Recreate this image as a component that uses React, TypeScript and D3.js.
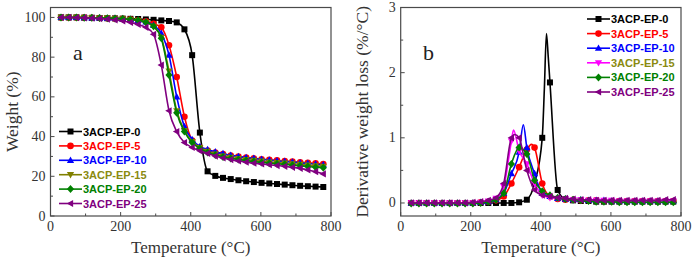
import React from 'react';
import * as d3 from 'd3';

// ---------- data ----------
const temps = [30, 52, 74, 96, 118, 140, 162, 184, 206, 228, 250, 272, 294, 316, 338, 360, 382, 404, 426, 448, 470, 492, 514, 536, 558, 580, 602, 624, 646, 668, 690, 712, 734, 756, 778];

const seriesNames = ['3ACP-EP-0', '3ACP-EP-5', '3ACP-EP-10', '3ACP-EP-15', '3ACP-EP-20', '3ACP-EP-25'];

// TGA weight (%)
const tgaEP0 = [100, 100, 100, 99.9, 99.8, 99.7, 99.6, 99.5, 99.4, 99.3, 99.2, 99.0, 98.8, 98.5, 98.2, 97.5, 94, 81, 42, 22.5, 20.2, 19.2, 18.6, 18.0, 17.5, 17.1, 16.7, 16.4, 16.1, 15.8, 15.5, 15.2, 15.0, 14.8, 14.6];
const tgaEP5 = [100, 100, 100, 99.9, 99.8, 99.7, 99.6, 99.5, 99.3, 99.0, 98.6, 98.0, 96.8, 95, 86, 70, 50, 38, 34.5, 33, 32, 31.2, 30.5, 29.9, 29.4, 29.0, 28.6, 28.3, 28.0, 27.7, 27.4, 27.1, 26.8, 26.5, 26.2];
const tgaEP10 = [100, 100, 100, 99.9, 99.8, 99.7, 99.6, 99.5, 99.3, 99.0, 98.5, 97.8, 96, 92, 81, 60, 45, 38.5, 35, 33.5, 32.3, 31.4, 30.6, 30, 29.4, 29, 28.6, 28.2, 27.8, 27.5, 27.2, 26.8, 26.5, 26.1, 25.8];
const tgaEP15 = [100, 100, 100, 99.9, 99.8, 99.7, 99.6, 99.4, 99.2, 98.9, 98.4, 97.5, 95.5, 90, 73, 53, 43, 37.5, 34.5, 32.5, 31.2, 30.2, 29.5, 28.9, 28.4, 28, 27.6, 27.2, 26.9, 26.6, 26.3, 26, 25.6, 25.3, 25];
const tgaEP20 = [100, 100, 100, 99.9, 99.8, 99.7, 99.6, 99.5, 99.3, 99.0, 98.6, 97.6, 95.5, 89.5, 71, 52, 42.5, 37, 34, 32, 30.7, 29.7, 29, 28.4, 27.9, 27.4, 27, 26.6, 26.3, 26, 25.6, 25.3, 24.9, 24.6, 24.3];
const tgaEP25 = [100, 100, 99.9, 99.8, 99.6, 99.4, 99.1, 98.7, 98.2, 97.5, 96.5, 95, 91.5, 76, 53, 42.5, 37, 34.5, 32.8, 31.5, 30.2, 29.2, 28.4, 27.7, 27.1, 26.6, 26.2, 25.8, 25.4, 25, 24.5, 24, 23.2, 22.3, 21.2];

// DTG derivative weight loss (%/°C)
const dtgEP0 = [0, 0, 0, 0, 0, 0, 0, 0, 0, 0, 0, 0, 0, 0, 0.01, 0.05, 0.3, 1.0, 1.85, 0.2, 0.06, 0.04, 0.03, 0.03, 0.02, 0.02, 0.02, 0.02, 0.02, 0.02, 0.02, 0.02, 0.02, 0.02, 0.02];
const dtgEP5 = [0, 0, 0, 0, 0, 0, 0, 0, 0, 0.01, 0.02, 0.04, 0.1, 0.3, 0.55, 0.82, 0.85, 0.3, 0.1, 0.06, 0.05, 0.05, 0.04, 0.04, 0.04, 0.03, 0.03, 0.03, 0.03, 0.03, 0.03, 0.03, 0.03, 0.03, 0.03];
const dtgEP10 = [0, 0, 0, 0, 0, 0, 0, 0, 0, 0.01, 0.02, 0.05, 0.15, 0.45, 0.78, 0.85, 0.45, 0.15, 0.1, 0.07, 0.06, 0.05, 0.05, 0.04, 0.04, 0.04, 0.03, 0.03, 0.03, 0.03, 0.03, 0.03, 0.03, 0.03, 0.03];
const dtgEP15 = [0, 0, 0, 0, 0, 0, 0, 0, 0, 0.01, 0.03, 0.07, 0.25, 0.95, 0.8, 0.6, 0.3, 0.12, 0.08, 0.07, 0.06, 0.05, 0.05, 0.04, 0.04, 0.04, 0.04, 0.03, 0.03, 0.03, 0.03, 0.03, 0.03, 0.03, 0.03];
const dtgEP20 = [-0.01, -0.01, -0.01, -0.01, -0.01, -0.01, -0.01, -0.01, -0.01, 0, 0.02, 0.05, 0.15, 0.6, 0.85, 0.75, 0.35, 0.18, 0.12, 0.08, 0.06, 0.05, 0.04, 0.03, 0.02, 0.02, 0.02, 0.01, 0.01, 0.01, 0.01, 0.01, 0.01, 0.01, 0.01];
const dtgEP25 = [0, 0, 0, 0, 0, 0, 0, 0, 0.01, 0.02, 0.04, 0.08, 0.3, 1.0, 1.0, 0.5, 0.2, 0.12, 0.1, 0.08, 0.07, 0.06, 0.05, 0.05, 0.04, 0.04, 0.04, 0.04, 0.04, 0.04, 0.04, 0.04, 0.04, 0.05, 0.05];

// extra (line-only) points at the DTG peaks
const dtgPeakEP0: [number, number][] = [[410, 1.75], [416, 2.6], [421, 2.25]];
const dtgPeakEP5: [number, number][] = [[373, 0.9]];
const dtgPeakEP10: [number, number][] = [[350, 1.2]];
const dtgPeakEP15: [number, number][] = [[322, 1.12]];
const dtgPeakEP20: [number, number][] = [];
const dtgPeakEP25: [number, number][] = [[326, 1.05]];

const xTicks = [0, 200, 400, 600, 800];
const xMinor = [100, 300, 500, 700];
const yTicksA = [0, 20, 40, 60, 80, 100];
const yMinorA = [10, 30, 50, 70, 90];
const yTicksB = [0, 1, 2, 3];
const yMinorB = [0.5, 1.5, 2.5];

// ---------- styles ----------
const colorsA = ['#000000', '#ff0000', '#0000ff', '#808000', '#008000', '#800080'];
const colorsB = ['#000000', '#ff0000', '#0000ff', '#ff00ff', '#008000', '#800080'];
const legendTextColors = ['#000000', '#ff0000', '#0000ff', '#8a8a10', '#008000', '#800080'];
const shapes = ['square', 'circle', 'triUp', 'triDown', 'diamond', 'triLeft'];

const SERIF = '"Liberation Serif", "Times New Roman", serif';
const SANS = '"Liberation Sans", Arial, sans-serif';

function markerPath(shape: string): string {
  switch (shape) {
    case 'square': return 'M-3,-3h6v6h-6z';
    case 'circle': return d3.symbol(d3.symbolCircle, 34)() as string;
    case 'triUp': return 'M0,-3.8L3.6,2.6L-3.6,2.6Z';
    case 'triDown': return 'M0,3.8L3.6,-2.6L-3.6,-2.6Z';
    case 'diamond': return 'M0,-4L3.6,0L0,4L-3.6,0Z';
    case 'triLeft': return 'M-3.8,0L2.6,-3.6L2.6,3.6Z';
  }
  return '';
}

type Series = { values: number[]; extra: [number, number][] };

function Panel(props: {
  x0: number; x1: number; y0: number; y1: number;
  yDomain: [number, number];
  yTicks: number[]; yMinor: number[];
  series: Series[]; colors: string[];
  yLabel: string; tag: string; tagX: number;
  legendX: number; legendY: number; legendStep: number;
  yFmt: (v: number) => string;
}) {
  const { x0, x1, y0, y1, yDomain, yTicks, yMinor, series, colors, yLabel, tag, tagX, legendX, legendY, legendStep, yFmt } = props;
  const x = d3.scaleLinear().domain([0, 800]).range([x0, x1]);
  const y = d3.scaleLinear().domain(yDomain).range([y1, y0]);
  const line = d3.line<[number, number]>().x(d => x(d[0])).y(d => y(d[1])).curve(d3.curveMonotoneX);
  const frame = '#4a4a4a';
  return (
    <g>
      <g>
        {series.map((s, i) => {
          const pts: [number, number][] = temps.map((t, k) => [t, s.values[k]] as [number, number]).concat(s.extra);
          pts.sort((a, b) => a[0] - b[0]);
          return (
            <g key={i}>
              <path d={line(pts) as string} fill="none" stroke={colors[i]} strokeWidth={1.6} />
              {temps.map((t, k) => (
                <path key={k} d={markerPath(shapes[i])} transform={`translate(${x(t)},${y(s.values[k])})`} fill={colors[i]} />
              ))}
            </g>
          );
        })}
      </g>
      <rect x={x0} y={y0} width={x1 - x0} height={y1 - y0} fill="none" stroke={frame} strokeWidth={1.2} />
      {xTicks.map(t => (
        <g key={'xt' + t}>
          <line x1={x(t)} x2={x(t)} y1={y1} y2={y1 - 4} stroke={frame} strokeWidth={1} />
          <text x={x(t)} y={231} textAnchor="middle" fontFamily={SERIF} fontSize={14} fill="#333">{t}</text>
        </g>
      ))}
      {xMinor.map(t => (
        <line key={'xm' + t} x1={x(t)} x2={x(t)} y1={y1} y2={y1 - 2.5} stroke={frame} strokeWidth={1} />
      ))}
      {yTicks.map(t => (
        <g key={'yt' + t}>
          <line x1={x0} x2={x0 + 4} y1={y(t)} y2={y(t)} stroke={frame} strokeWidth={1} />
          <text x={x0 - 5} y={y(t) + 4.5} textAnchor="end" fontFamily={SERIF} fontSize={14} fill="#333">{yFmt(t)}</text>
        </g>
      ))}
      {yMinor.map(t => (
        <line key={'ym' + t} x1={x0} x2={x0 + 2.5} y1={y(t)} y2={y(t)} stroke={frame} strokeWidth={1} />
      ))}
      <text x={(x0 + x1) / 2} y={253} textAnchor="middle" fontFamily={SERIF} fontSize={17} fill="#333">Temperature (°C)</text>
      <text transform={`translate(${x0 - 33},${(y0 + y1) / 2}) rotate(-90)`} textAnchor="middle" fontFamily={SERIF} fontSize={17.5} fill="#333">{yLabel}</text>
      <text x={tagX} y={60} fontFamily={SERIF} fontSize={22} fill="#222">{tag}</text>
      {seriesNames.map((n, i) => {
        const ly = legendY + i * legendStep;
        return (
          <g key={'lg' + i}>
            <line x1={legendX} x2={legendX + 23} y1={ly} y2={ly} stroke={colors[i]} strokeWidth={1.6} />
            <path d={markerPath(shapes[i])} transform={`translate(${legendX + 11.5},${ly})`} fill={colors[i]} />
            <text x={legendX + 24} y={ly + 4} fontFamily={SANS} fontWeight="bold" fontSize={11} fill={legendTextColors[i]}>{n}</text>
          </g>
        );
      })}
    </g>
  );
}

export default function App() {
  const tga: Series[] = [tgaEP0, tgaEP5, tgaEP10, tgaEP15, tgaEP20, tgaEP25].map(v => ({ values: v, extra: [] }));
  const dtgVals = [dtgEP0, dtgEP5, dtgEP10, dtgEP15, dtgEP20, dtgEP25];
  const dtgExtra = [dtgPeakEP0, dtgPeakEP5, dtgPeakEP10, dtgPeakEP15, dtgPeakEP20, dtgPeakEP25];
  const dtg: Series[] = dtgVals.map((v, i) => ({ values: v, extra: dtgExtra[i] }));
  return (
    <svg width={700} height={259} style={{ position: 'fixed', left: 0, top: 0, background: '#fff' }}>
      <rect x={0} y={0} width={700} height={259} fill="#fff" />
      <Panel x0={50.5} x1={331} y0={7.5} y1={216} yDomain={[0, 105]} yTicks={yTicksA} yMinor={yMinorA}
        series={tga} colors={colorsA} yLabel="Weight (%)" tag="a" tagX={73}
        legendX={59} legendY={131.5} legendStep={14.4} yFmt={v => String(v)} />
      <Panel x0={400.7} x1={681} y0={7.5} y1={216} yDomain={[-0.2, 3]} yTicks={yTicksB} yMinor={yMinorB}
        series={dtg} colors={colorsB} yLabel="Derivative weight loss (%/°C)" tag="b" tagX={423}
        legendX={587} legendY={19} legendStep={14.6} yFmt={v => String(v)} />
    </svg>
  );
}
